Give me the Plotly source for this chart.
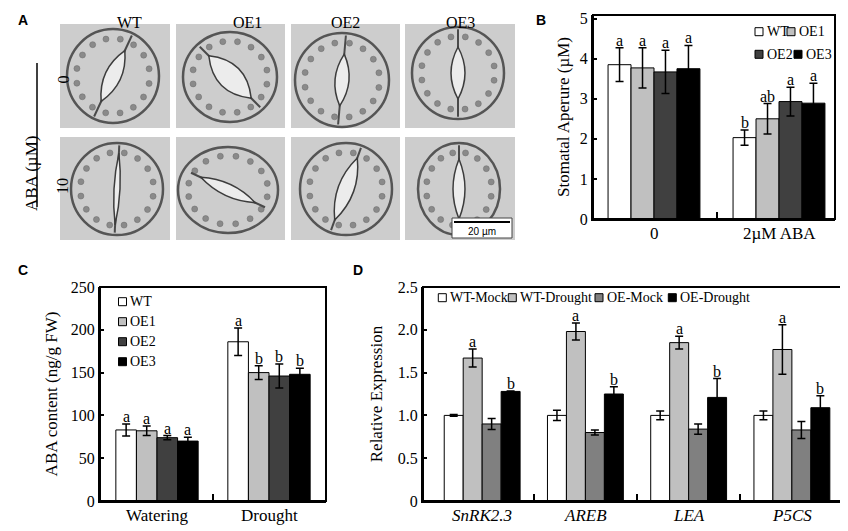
import numpy as np
import plotly.graph_objects as go

# --- page geometry: the browser puts the figure 8px in from the top-left ---
OFF = 8
W, H = 840, 523
SERIF = "Liberation Serif"
SANS = "Liberation Sans"

# --- B: stomatal aperture ---
b_cats = ["0", "2µM ABA"]
b_names = ["WT", "OE1", "OE2", "OE3"]
b_wt = [3.85, 2.03]
b_oe1 = [3.77, 2.50]
b_oe2 = [3.67, 2.93]
b_oe3 = [3.75, 2.89]
b_err_wt = [0.42, 0.19]
b_err_oe1 = [0.50, 0.38]
b_err_oe2 = [0.54, 0.36]
b_err_oe3 = [0.58, 0.50]
b_let_wt = ["a", "b"]
b_let_oe1 = ["a", "ab"]
b_let_oe2 = ["a", "a"]
b_let_oe3 = ["a", "a"]

# --- C: ABA content ---
c_cats = ["Watering", "Drought"]
c_names = ["WT", "OE1", "OE2", "OE3"]
c_wt = [83, 186]
c_oe1 = [82, 150]
c_oe2 = [74, 146]
c_oe3 = [70, 148]
c_err_wt = [7, 16]
c_err_oe1 = [5.5, 8]
c_err_oe2 = [2.5, 14]
c_err_oe3 = [4.5, 7]
c_let_wt = ["a", "a"]
c_let_oe1 = ["a", "b"]
c_let_oe2 = ["a", "b"]
c_let_oe3 = ["a", "b"]

# --- D: relative expression ---
d_cats = ["SnRK2.3", "AREB", "LEA", "P5CS"]
d_names = ["WT-Mock", "WT-Drought", "OE-Mock", "OE-Drought"]
d_wt_mock = [1.0, 1.0, 1.0, 1.0]
d_wt_dr = [1.67, 1.98, 1.85, 1.77]
d_oe_mock = [0.90, 0.80, 0.84, 0.83]
d_oe_dr = [1.28, 1.25, 1.21, 1.09]
d_err_wt_mock = [0.01, 0.06, 0.05, 0.05]
d_err_wt_dr = [0.105, 0.10, 0.074, 0.29]
d_err_oe_mock = [0.065, 0.03, 0.06, 0.10]
d_err_oe_dr = [0.005, 0.086, 0.22, 0.14]
d_let_wt_mock = ["", "", "", ""]
d_let_wt_dr = ["a", "a", "a", "a"]
d_let_oe_mock = ["", "", "", ""]
d_let_oe_dr = ["b", "b", "b", "b"]

# --- A: image panel labels ---
a_cols = ["WT", "OE1", "OE2", "OE3"]
a_rows = ["0", "10"]

GREYS4 = ["white", "#c0c0c0", "#404040", "black"]
GREYS_D = ["white", "#c0c0c0", "#808080", "black"]
BARGAP = 0.265


def P(x, y):
    # page pixel -> paper
    return (x - OFF) / W, 1 - (y - OFF) / H


fig = go.Figure()
shapes = []
annos = []


def text(x, y, s, size=16, family=SERIF, angle=0, **kw):
    px, py = P(x, y)
    annos.append(dict(x=px, y=py, xref="paper", yref="paper", text=s, showarrow=False,
                      font=dict(family=family, size=size, color="black"), textangle=angle, **kw))


def bar_panel(cats, names, vals, errs, lets, colors, xa, ya, italic=False):
    n = len(names)
    gw = 1 - BARGAP
    bw = gw / n
    xs = list(range(len(cats)))
    for i in range(n):
        fig.add_trace(go.Bar(
            x=xs, y=vals[i], name=names[i], xaxis=xa, yaxis=ya, showlegend=False,
            marker=dict(color=colors[i], line=dict(color="black", width=1)),
            error_y=dict(type="data", array=errs[i], color="black", thickness=1.5, width=4)))
        off = -gw / 2 + (i + 0.5) * bw
        for j in xs:
            if lets[i][j]:
                annos.append(dict(x=j + off, y=vals[i][j] + errs[i][j], xref=xa, yref=ya,
                                  text=lets[i][j], showarrow=False, yanchor="bottom", yshift=-3,
                                  font=dict(family=SERIF, size=16, color="black")))
    # category labels under each group
    for j, cat in enumerate(cats):
        annos.append(dict(x=j, y=0, xref=xa, yref=f"{ya} domain", yanchor="top", yshift=-3,
                          text=f"<i>{cat}</i>" if italic else cat, showarrow=False,
                          font=dict(family=SERIF, size=17, color="black")))
    # frame round the plot area
    shapes.append(dict(type="rect", xref=f"{xa} domain", yref=f"{ya} domain", x0=0, x1=1, y0=0, y1=1,
                       line=dict(color="black", width=2), layer="above"))


def legend_box(items, size=8):
    for x, y, name, color in items:
        x0, y0 = P(x, y - size / 2)
        x1, y1 = P(x + size, y + size / 2)
        shapes.append(dict(type="rect", xref="paper", yref="paper", x0=x0, x1=x1, y0=y1, y1=y0,
                           fillcolor=color, line=dict(color="black", width=1)))
        text(x + size + 1.5, y, name, size=14, xanchor="left", yanchor="middle")


# ---------------- panel B ----------------
bar_panel(b_cats, b_names, [b_wt, b_oe1, b_oe2, b_oe3],
          [b_err_wt, b_err_oe1, b_err_oe2, b_err_oe3],
          [b_let_wt, b_let_oe1, b_let_oe2, b_let_oe3], GREYS4, "x", "y")
legend_box([(755, 31.7, b_names[0], GREYS4[0]), (787, 31.7, b_names[1], GREYS4[1]),
            (755, 54.3, b_names[2], GREYS4[2]), (794, 54.3, b_names[3], GREYS4[3])])

# ---------------- panel C ----------------
bar_panel(c_cats, c_names, [c_wt, c_oe1, c_oe2, c_oe3],
          [c_err_wt, c_err_oe1, c_err_oe2, c_err_oe3],
          [c_let_wt, c_let_oe1, c_let_oe2, c_let_oe3], GREYS4, "x2", "y2")
legend_box([(118.5, 301.7 + 20 * k, c_names[k], GREYS4[k]) for k in range(4)])

# ---------------- panel D ----------------
bar_panel(d_cats, d_names, [d_wt_mock, d_wt_dr, d_oe_mock, d_oe_dr],
          [d_err_wt_mock, d_err_wt_dr, d_err_oe_mock, d_err_oe_dr],
          [d_let_wt_mock, d_let_wt_dr, d_let_oe_mock, d_let_oe_dr], GREYS_D, "x3", "y3", italic=True)
legend_box([(438.3, 297.7, d_names[0], GREYS_D[0]), (508.3, 297.7, d_names[1], GREYS_D[1]),
            (595, 297.7, d_names[2], GREYS_D[2]), (668.3, 297.7, d_names[3], GREYS_D[3])])

# ---------------- panel A (drawn micrographs) ----------------
tiles_x = [(60, 170), (176, 285), (291, 400), (405, 515)]
tiles_y = [(24, 128), (137, 240)]
# (cx, cy, rx, ry, pore angle from vertical, pore half length, pore half width)
stomata = [
    [(113, 76, 46, 47, 25, 28, 8), (230, 77, 47, 45, -45, 30, 12), (342, 80, 47, 47, 5, 26, 7), (458, 73, 46, 46, 0, 26, 7)],
    [(117, 189, 46, 46, 3, 36, 3), (228, 190, 50, 43, -65, 30, 6), (346, 189, 46, 46, 20, 33, 8), (459, 189, 41, 46, 0, 30, 6)],
]
for r, (ty0, ty1) in enumerate(tiles_y):
    for c, (tx0, tx1) in enumerate(tiles_x):
        x0, y0 = P(tx0, ty1)
        x1, y1 = P(tx1, ty0)
        shapes.append(dict(type="rect", xref="paper", yref="paper", x0=x0, x1=x1, y0=y0, y1=y1,
                           fillcolor="#cdcdcd", line=dict(width=0), layer="below"))
        cx, cy, rx, ry, ang, pl, pw = stomata[r][c]
        # chloroplast dots
        for t in np.linspace(0, 2 * np.pi, 16, endpoint=False):
            dx, dy = cx + 0.8 * rx * np.cos(t + 0.2), cy + 0.8 * ry * np.sin(t + 0.2)
            a0, b0 = P(dx - 3, dy + 3)
            a1, b1 = P(dx + 3, dy - 3)
            shapes.append(dict(type="circle", xref="paper", yref="paper", x0=a0, x1=a1, y0=b0, y1=b1,
                               fillcolor="#8a8a8a", line=dict(color="#6a6a6a", width=0.5)))
        a0, b0 = P(cx - rx, cy + ry)
        a1, b1 = P(cx + rx, cy - ry)
        shapes.append(dict(type="circle", xref="paper", yref="paper", x0=a0, x1=a1, y0=b0, y1=b1,
                           line=dict(color="#555555", width=2.5)))
        th = np.radians(ang)
        ux, uy = np.sin(th), -np.cos(th)
        vx, vy = np.cos(th), np.sin(th)
        # guard-cell junction line
        L = 0.95 * ry
        p, q = P(cx - L * ux, cy - L * uy), P(cx + L * ux, cy + L * uy)
        shapes.append(dict(type="line", xref="paper", yref="paper", x0=p[0], y0=p[1], x1=q[0], y1=q[1],
                           line=dict(color="#4a4a4a", width=2)))
        # pore lens
        e1 = P(cx - pl * ux, cy - pl * uy)
        e2 = P(cx + pl * ux, cy + pl * uy)
        k1 = P(cx + 2 * pw * vx, cy + 2 * pw * vy)
        k2 = P(cx - 2 * pw * vx, cy - 2 * pw * vy)
        path = (f"M {e1[0]},{e1[1]} Q {k1[0]},{k1[1]} {e2[0]},{e2[1]} "
                f"Q {k2[0]},{k2[1]} {e1[0]},{e1[1]} Z")
        shapes.append(dict(type="path", xref="paper", yref="paper", path=path,
                           fillcolor="#ececec", line=dict(color="#3c3c3c", width=1.5)))

# scale bar
a0, b0 = P(452, 238)
a1, b1 = P(512, 218)
shapes.append(dict(type="rect", xref="paper", yref="paper", x0=a0, x1=a1, y0=b0, y1=b1,
                   fillcolor="white", line=dict(color="#444444", width=1)))
a0, b0 = P(454, 222)
a1, b1 = P(510, 222)
shapes.append(dict(type="line", xref="paper", yref="paper", x0=a0, x1=a1, y0=b0, y1=b1,
                   line=dict(color="black", width=2)))
text(482, 231, "20 µm", size=10, family=SANS)

# row/column labels
for c, lab in enumerate(a_cols):
    text((tiles_x[c][0] + tiles_x[c][1]) / 2, 12, lab, size=16)
for r, lab in enumerate(a_rows):
    text(52, (tiles_y[r][0] + tiles_y[r][1]) / 2 - 2, lab, size=16, angle=-90)
text(20, 134, "ABA (µM)", size=17, angle=-90)
a0, b0 = P(37, 207)
a1, b1 = P(37, 63)
shapes.append(dict(type="line", xref="paper", yref="paper", x0=a0, x1=a1, y0=b0, y1=b1,
                   line=dict(color="black", width=1.5)))

# panel letters
for lab, (x, y) in zip("ABCD", [(16, 10), (541, 10), (16, 270), (358, 270)]):
    text(x, y, f"<b>{lab}</b>", size=14, family=SANS)


# ---------------- axes ----------------
def xax(dom, rng, ncat, anchor):
    # ticks only at the boundaries between groups
    return dict(domain=[(dom[0] - OFF) / W, (dom[1] - OFF) / W], range=rng, type="linear", anchor=anchor,
                automargin=False, tickmode="array", tickvals=[k + 0.5 for k in range(ncat - 1)],
                ticks="inside", ticklen=7, tickwidth=2, tickcolor="black", showticklabels=False,
                showline=True, linecolor="black", linewidth=2, showgrid=False, zeroline=False)


def yax(dom, rng, tv, tt, title, standoff, anchor):
    return dict(domain=[1 - (dom[1] - OFF) / H, 1 - (dom[0] - OFF) / H], range=rng, anchor=anchor,
                automargin=False,
                tickmode="array", tickvals=tv, ticktext=tt, ticks="inside", ticklen=4,
                tickwidth=1.5, tickcolor="black",
                showline=True, linecolor="black", linewidth=2,
                showgrid=False, zeroline=False,
                tickfont=dict(family=SERIF, size=16, color="black"),
                title=dict(text=title, standoff=standoff, font=dict(family=SERIF, size=17, color="black")))


b_ticks = [0, 1, 2, 3, 4, 5]
c_ticks = [0, 50, 100, 150, 200, 250]
d_ticks = [0, 0.5, 1.0, 1.5, 2.0, 2.5]

fig.update_layout(
    width=W, height=H, margin=dict(l=0, r=0, t=0, b=0, autoexpand=False),
    paper_bgcolor="white", plot_bgcolor="white",
    barmode="group", bargap=BARGAP, bargroupgap=0, showlegend=False,
    xaxis=xax((593, 835), [-0.488, 1.448], len(b_cats), "y"),
    yaxis=yax((15, 219), [0, 5.09], b_ticks, [str(t) for t in b_ticks], "Stomatal Aperure (µM)", 6, "x"),
    xaxis2=xax((100, 326), [-0.509, 1.509], len(c_cats), "y2"),
    yaxis2=yax((287, 501), [0, 250], c_ticks, [str(t) for t in c_ticks], "ABA content (ng/g FW)", 9, "x2"),
    xaxis3=xax((423, 843), [-0.573, 3.495], len(d_cats), "y3"),
    yaxis3=yax((287, 501), [0, 2.5], d_ticks, ["0"] + [f"{t:.1f}" for t in d_ticks[1:]], "Relative Expression", 11, "x3"),
    shapes=shapes, annotations=annos,
)

fig.write_html("out.html")
